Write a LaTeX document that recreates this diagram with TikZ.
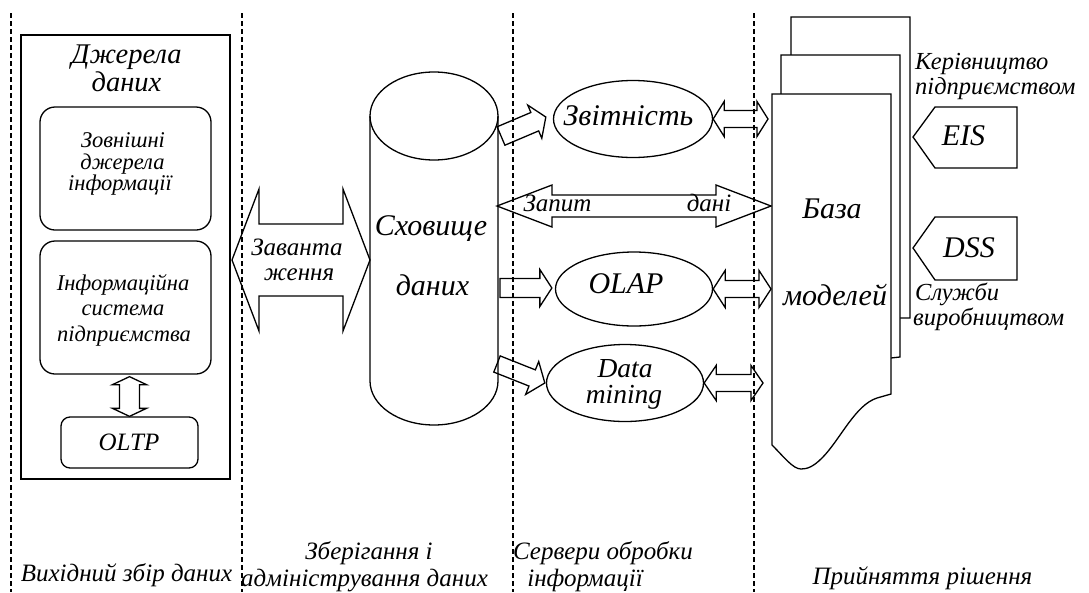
\documentclass[tikz,border=0pt]{standalone}
\usepackage{fontspec}
\setmainfont{Liberation Serif}
\usetikzlibrary{calc,shapes.geometric}
\newcommand\blkdbl[5]{%
  \pgfpointdiff{\pgfpointanchor{#1}{center}}{\pgfpointanchor{#2}{center}}%
  \pgfgetlastxy{\mydx}{\mydy}%
  \pgfmathsetmacro\mylen{veclen(\mydx,\mydy)}%
  \pgfmathsetmacro\myang{atan2(\mydy,\mydx)}%
  \begin{scope}[shift={(#1)},rotate=\myang]
    \draw[blk] (0,0) -- (#5,#4) -- (#5,#3) -- (\mylen-#5,#3) -- (\mylen-#5,#4) -- (\mylen,0)
      -- (\mylen-#5,-#4) -- (\mylen-#5,-#3) -- (#5,-#3) -- (#5,-#4) -- cycle;
  \end{scope}}
\newcommand\blksgl[5]{%
  \pgfpointdiff{\pgfpointanchor{#1}{center}}{\pgfpointanchor{#2}{center}}%
  \pgfgetlastxy{\mydx}{\mydy}%
  \pgfmathsetmacro\mylen{veclen(\mydx,\mydy)}%
  \pgfmathsetmacro\myang{atan2(\mydy,\mydx)}%
  \begin{scope}[shift={(#1)},rotate=\myang]
    \draw[blk] (0,#3) -- (\mylen-#5,#3) -- (\mylen-#5,#4) -- (\mylen,0)
      -- (\mylen-#5,-#4) -- (\mylen-#5,-#3) -- (0,-#3) -- cycle;
  \end{scope}}
\tikzset{
  shp/.style={draw, line width=1.3pt},
  blk/.style={draw, line width=1.3pt},
  sepline/.style={line width=1.2pt, dash pattern=on 5pt off 3pt},
  txt/.style={anchor=base, inner sep=0pt, font=\fontsize{25}{25}\selectfont\itshape},
  txts/.style={anchor=base, inner sep=0pt, font=\fontsize{22.5}{25}\selectfont\itshape},
  txtl/.style={anchor=base west, inner sep=0pt, font=\fontsize{24.5}{25}\selectfont\itshape},
  bigt/.style={anchor=base, inner sep=0pt, font=\fontsize{30}{30}\selectfont\itshape},
  rbox/.style={draw, line width=1.3pt, rounded corners=15pt, inner sep=0pt},
  ell/.style={draw, line width=1.3pt, ellipse, inner sep=0pt},
}
\begin{document}
\begin{tikzpicture}[x=1pt,y=-1pt]
\useasboundingbox (0,0) rectangle (1089,592);
\fill[white] (0,0) rectangle (1089,592);
% separators
\foreach \x in {11,242,513,754} \draw[sepline] (\x,13) -- (\x,592);
% left block
\node[shp, minimum width=209pt, minimum height=444pt, inner sep=0pt] (src) at (125.5,257) {};
\node[bigt, font=\fontsize{28.5}{29}\selectfont\itshape] (srct1) at (126.5,63) {Джерела};
\node[bigt, font=\fontsize{28.5}{29}\selectfont\itshape] (srct2) at (126.5,91.5) {даних};
\node[rbox, minimum width=171pt, minimum height=123pt] (ext) at (125.5,168.5) {};
\node[txts] (extt1) at (123,147.5) {Зовнішні};
\node[txts] (extt2) at (122.5,169) {джерела};
\node[txts] (extt3) at (120,190.5) {інформації};
\node[rbox, minimum width=171pt, minimum height=133pt] (is) at (125.5,307.5) {};
\node[txts] (ist1) at (123,290) {Інформаційна};
\node[txts] (ist2) at (123,315.5) {система};
\node[txts] (ist3) at (124,341) {підприємства};
\node[rbox, rounded corners=9pt, minimum width=137pt, minimum height=51pt] (oltp) at (129.5,442.5) {};
\node[txt] (oltpt) at (129,450) {OLTP};
\coordinate (isb) at ($(is.south -| oltp.north)+(0,2)$);
\coordinate (oltpn) at (oltp.north);
\blkdbl{isb}{oltpn}{10}{17}{8}
% cylinder
\draw[shp] (370,116) -- (370,381) .. controls (370,405.3) and (398.7,425) .. (434,425)
  .. controls (469.3,425) and (498,405.3) .. (498,381) -- (498,116);
\draw[shp] (434,116) ellipse [x radius=64, y radius=44];
\coordinate (cylL) at (370,260);
\node[bigt] (cylt1) at (431,235) {Сховище};
\node[bigt] (cylt2) at (432.5,295) {даних};
% loading arrow
\coordinate (ldA) at (232,260);
\blkdbl{ldA}{cylL}{36}{71}{27}
\node[txt] (ldt1) at (297,255) {Заванта};
\node[txt] (ldt2) at (299,280) {ження};
% processing servers
\node[ell, minimum width=159pt, minimum height=77pt] (zv) at (633,119) {};
\node[bigt] (zvt) at (628.5,125) {Звітність};
\node[ell, minimum width=157pt, minimum height=74pt] (olap) at (634,289) {};
\node[bigt] (olapt) at (626,293.5) {OLAP};
\node[ell, minimum width=157pt, minimum height=77pt] (dm) at (625,383) {};
\node[bigt, font=\fontsize{27.5}{28}\selectfont\itshape] (dmt1) at (625,377) {Data};
\node[bigt, font=\fontsize{27.5}{28}\selectfont\itshape] (dmt2) at (624,403) {mining};
% arrows from warehouse
\coordinate (a1s) at (501,136);
\coordinate (a1e) at ($(zv.west)+(-7,-2)$);
\blksgl{a1s}{a1e}{10}{18}{12}
\coordinate (a2s) at (497,206);
\coordinate (a2e) at (771,206);
\blkdbl{a2s}{a2e}{11}{21}{55}
\node[txt] (zap) at (557.5,211.5) {Запит};
\node[txt] (dani) at (709,211.5) {дані};
\coordinate (a3s) at (500,288);
\coordinate (a3e) at ($(olap.west)+(-3,-1)$);
\blksgl{a3s}{a3e}{9.5}{18.5}{12}
\coordinate (a4s) at (497,364);
\coordinate (a4e) at ($(dm.west)+(-1,0)$);
\blksgl{a4s}{a4e}{8.7}{17.7}{13.6}
% model base stack
\draw[shp, fill=white] (791,330) -- (791,17) -- (910,17) -- (910,318) -- (900,318) -- cycle;
\draw[shp, fill=white] (781,370) -- (781,55) -- (900,55) -- (900,357) -- (891,358) -- cycle;
\draw[shp, fill=white] (772,94) -- (891,94) -- (891,394) -- (877,398)
  .. controls (855,405) and (840,440) .. (822,458)
  .. controls (813,467) and (807,469) .. (801,469)
  .. controls (793,469) and (784,457) .. (772,445) -- cycle;
\coordinate (dbL) at (772,250);
\node[bigt] (dbt1) at (832,218.5) {База};
\node[bigt] (dbt2) at (835,305) {моделей};
% right arrows
\coordinate (r1s) at (zv.east);
\coordinate (r1e) at ($(zv.east -| dbL)+(-4,0)$);
\blkdbl{r1s}{r1e}{8.5}{17.5}{11}
\coordinate (r2s) at (olap.east);
\coordinate (r2e) at ($(olap.east -| dbL)+(-1,0)$);
\blkdbl{r2s}{r2e}{8.5}{18.5}{12}
\coordinate (r3s) at (dm.east);
\coordinate (r3e) at ($(dm.east -| dbL)+(-9,0)$);
\blkdbl{r3s}{r3e}{8.5}{17.5}{12}
% EIS / DSS
\draw[shp] (913,137) coordinate (eisL) -- (935,107) -- (1017,107) -- (1017,168) -- (935,168) -- cycle;
\node[bigt] (eis) at (963.5,145) {EIS};
\draw[shp] (913,248) coordinate (dssL) -- (935,217) -- (1017,217) -- (1017,280) -- (935,280) -- cycle;
\node[bigt] (dss) at (969,257) {DSS};
\node[txtl] (ker1) at (915,69.5) {Керівництво};
\node[txtl] (ker2) at (915,94) {підприємством};
\node[txtl] (slu1) at (915,300) {Служби};
\node[txtl] (slu2) at (913,325) {виробництвом};
% bottom captions
\node[txt] (c1) at (126.5,581.5) {Вихідний збір даних};
\node[txt] (c2a) at (369,559) {Зберігання і};
\node[txt] (c2b) at (364.5,586) {адміністрування даних};
\node[txt] (c3a) at (603,559) {Сервери обробки};
\node[txt] (c3b) at (585,586) {інформації};
\node[txt] (c4) at (922.5,584.5) {Прийняття рішення};
\end{tikzpicture}
\end{document}
